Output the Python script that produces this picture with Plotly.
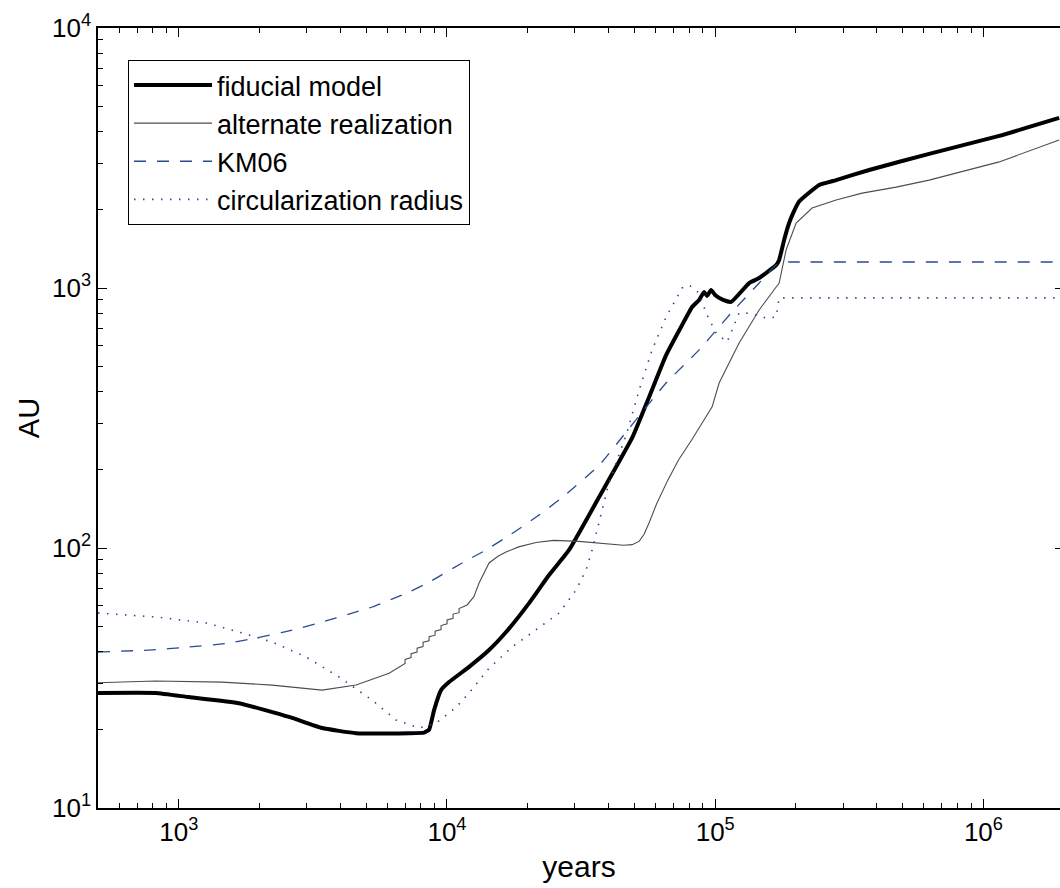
import plotly.graph_objects as go

# ---------------- data ----------------
fid_x = [500, 820, 1090, 1678, 2578, 3422, 4583, 7223, 8212, 8577, 8953, 9506, 10181,
         12092, 14352, 16612, 20236, 24027, 28532, 36914, 48996, 56709, 65613, 75288,
         82029, 87096, 90920, 93280, 96540, 99900, 107000, 114640, 133850, 145850,
         168750, 173150, 180700, 188600, 196000, 205500, 244100, 282400, 375000, 627600,
         1145000, 1916000]
fid_y = [27.7, 27.7, 26.7, 25.3, 22.4, 20.3, 19.4, 19.4, 19.5, 20.0, 23.8, 28.4, 30.5,
         34.9, 40.5, 47.5, 61.4, 78.7, 98.3, 157, 265, 381, 552, 721,
         845, 900, 966, 932, 982, 940, 900, 884, 1045, 1092,
         1225, 1282, 1530, 1778, 1958, 2150, 2489, 2600, 2844, 3280,
         3846, 4508]

alt_x = [500, 820, 1450, 2228, 3422, 4583, 6084, 6627,
         6980, 6980, 7348, 7348, 7736, 7736, 8145, 8145, 8577, 8577, 9030, 9030,
         9506, 9506, 10009, 10009, 10539, 10539, 11094, 11094,
         11887, 12600, 13174, 14352, 15500, 16612, 18500, 21488, 25000, 31000, 36914,
         42000, 45500, 49000, 52038, 54300, 56709, 60500, 66500, 73000, 82029, 97393,
         103420, 122800, 145850, 168750, 173150, 183800, 200300, 229800, 282400,
         353100, 472800, 627600, 1145000, 1916000]
alt_y = [30.3, 30.8, 30.5, 29.7, 28.4, 29.7, 33.0, 34.9,
         36.0, 37.3, 37.9, 39.2, 39.8, 41.2, 41.8, 43.4, 44.0, 45.6, 46.2, 47.9,
         48.6, 50.3, 51.1, 52.9, 53.7, 55.7, 56.4, 58.5,
         60.4, 65, 73.3, 87.6, 93, 96.5, 101, 105, 107, 106, 104.5,
         103, 102.5, 103, 106, 113, 125, 148, 182, 218, 262, 349,
         431, 614, 823, 1009, 1045, 1400, 1778, 2030, 2179,
         2317, 2443, 2600, 3055, 3707]

km_x = [500, 776, 1090, 1540, 1942, 2578, 3422, 4311, 5258, 7223, 8577, 11389, 13986,
        17790, 22050, 26182, 36914, 46541, 65613, 87096, 114640, 145850, 168750,
        180700, 190000, 400000, 1000000, 1916000]
km_y = [39.8, 40.5, 41.6, 43.1, 45.1, 48.0, 51.9, 55.7, 59.3, 67.7, 73.9, 87.6, 98.3,
        115, 134, 153, 208, 279, 431, 578, 801, 1045, 1225,
        1259, 1259, 1259, 1259, 1259]

circ_x = [500, 820, 1264, 1678, 2228, 2984, 3960, 5258, 6461, 7870, 9108, 10813,
          12092, 14352, 17486, 21488, 26182, 30294, 33012, 34754, 40000, 46944, 52038,
          58190, 65613, 75288, 79941, 87096, 92506, 100790, 110780, 115630,
          122800, 133850, 154890, 168750, 173150, 1916000]
circ_y = [56.2, 54.3, 51.5, 47.5, 43.5, 38.1, 31.9, 26.0, 21.8, 20.3, 21.2, 24.4,
          27.7, 34.5, 41.6, 48.4, 56.2, 68.9, 82.2, 98.3, 175, 279, 405,
          578, 773, 1000, 1027, 957, 801, 671, 620, 689,
          801, 800, 766, 773, 916, 916]

x_tick_vals = [1e3, 1e4, 1e5, 1e6]
x_tick_text = ["10<sup>3</sup>", "10<sup>4</sup>", "10<sup>5</sup>", "10<sup>6</sup>"]
y_tick_vals = [10, 100, 1000, 10000]
y_tick_text = ["10<sup>1</sup>", "10<sup>2</sup>", "10<sup>3</sup>", "10<sup>4</sup>"]

names = ["fiducial model", "alternate realization", "KM06", "circularization radius"]

# ---------------- figure ----------------
FONT = "Liberation Sans, Arial, Helvetica, sans-serif"
BLUE = "#2b4a94"

fig = go.Figure()
fig.add_trace(go.Scatter(x=fid_x, y=fid_y, mode="lines", name=names[0],
                         line=dict(color="black", width=4, shape="spline", smoothing=0.4)))
fig.add_trace(go.Scatter(x=alt_x, y=alt_y, mode="lines", name=names[1],
                         line=dict(color="#4d4d4d", width=1.1)))
fig.add_trace(go.Scatter(x=km_x, y=km_y, mode="lines", name=names[2],
                         line=dict(color=BLUE, width=1.3, dash="12px,11px", shape="spline", smoothing=0.5)))
fig.add_trace(go.Scatter(x=circ_x, y=circ_y, mode="lines", name=names[3],
                         line=dict(color=BLUE, width=1.6, dash="1.5px,7.5px")))
# invisible helper trace so the right-hand tick axis is drawn
fig.add_trace(go.Scatter(x=km_x, y=km_y, yaxis="y2", mode="lines", showlegend=False,
                         hoverinfo="skip", line=dict(width=0), opacity=0))

minor_x = [m * 10 ** e for e in range(2, 7) for m in range(2, 10)]
minor_y = [m * 10 ** e for e in range(1, 4) for m in range(2, 10)]

axis_common = dict(type="log", showgrid=False, zeroline=False, linecolor="black",
                   linewidth=1.5, ticks="inside", ticklen=9, tickwidth=1, tickcolor="black",
                   tickfont=dict(family=FONT, size=26, color="black"))

fig.update_layout(
    width=1060, height=888,
    margin=dict(l=98, r=0, t=28, b=80),
    paper_bgcolor="white", plot_bgcolor="white",
    font=dict(family=FONT, color="black"),
    xaxis=dict(range=[2.699, 6.2855], tickvals=x_tick_vals, ticktext=x_tick_text,
               showline=True, mirror="ticks",
               minor=dict(tickvals=minor_x, ticks="inside", ticklen=5, tickcolor="black"),
               title=dict(text="years", font=dict(family=FONT, size=30), standoff=10),
               **axis_common),
    yaxis=dict(range=[1, 4], tickvals=y_tick_vals, ticktext=y_tick_text,
               showline=True, mirror=False,
               minor=dict(tickvals=minor_y, ticks="inside", ticklen=5, tickcolor="black"),
               title=dict(text="AU", font=dict(family=FONT, size=29), standoff=4),
               **axis_common),
    yaxis2=dict(type="log", range=[1, 4], overlaying="y", side="right", showline=False,
                showgrid=False, zeroline=False, showticklabels=False,
                tickvals=y_tick_vals, ticks="inside", ticklen=5, tickcolor="black"),
    legend=dict(x=0.0312, y=0.959, xanchor="left", yanchor="top",
                bgcolor="white", bordercolor="black", borderwidth=1,
                font=dict(family=FONT, size=27, color="black"),
                itemwidth=78, tracegroupgap=0),
    showlegend=True,
)

fig.write_html("out.html")
